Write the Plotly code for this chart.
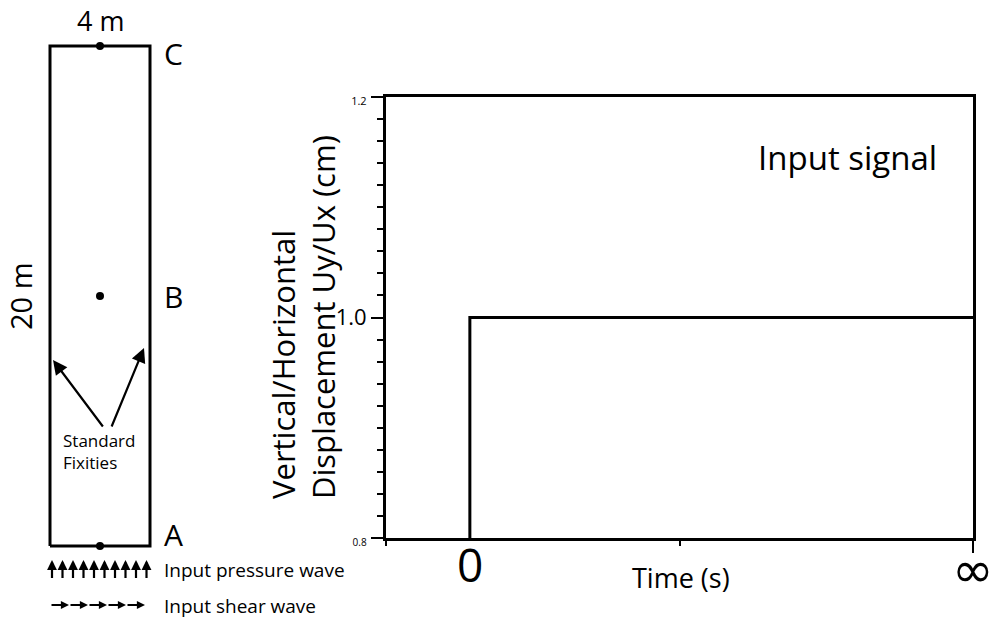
import plotly.graph_objects as go

# ---------------- data ----------------
time_vals = [0, 0, 6]
disp_vals = [0.8, 1.0, 1.0]
y_tick_vals = [0.8, 1.0, 1.2]
y_tick_text = ["<span style='font-size:10px'>0.8</span>", "1.0", "<span style='font-size:11px'>1.2</span>"]
x_tick_vals = [6]
x_tick_text = [""]
x_minor_ticks = [-1, 2.5]
zero_label_t = 0
inf_label_t = 6

col_width = 4
col_height = 20
node_names = ["A", "B", "C"]
node_x = [2, 2, 2]
node_y = [0, 10, 20]
pressure_arrow_x = [0.08, 0.5, 0.92, 1.34, 1.76, 2.18, 2.6, 3.02, 3.44, 3.86]
shear_arrow_start = [0, 0.76, 1.52, 2.28, 3.04]
shear_arrow_end = [0.76, 1.52, 2.28, 3.04, 3.8]
fixity_from = [(2.16, 4.72), (2.44, 4.72)]
fixity_to = [(0.12, 7.44), (3.76, 7.92)]

FONT = "Open Sans"
W, H = 995, 622

fig = go.Figure()
fig.add_trace(go.Scatter(x=time_vals, y=disp_vals, mode="lines",
                         line=dict(color="black", width=3),
                         xaxis="x", yaxis="y", showlegend=False, hoverinfo="skip"))
fig.add_trace(go.Scatter(x=[0, col_width, col_width, 0, 0],
                         y=[0, 0, col_height, col_height, 0], mode="lines",
                         line=dict(color="black", width=3),
                         xaxis="x2", yaxis="y2", showlegend=False, hoverinfo="skip"))
fig.add_trace(go.Scatter(x=node_x, y=node_y, mode="markers",
                         marker=dict(color="black", size=8),
                         xaxis="x2", yaxis="y2", showlegend=False, hoverinfo="skip"))

ann = []
for name, ny in zip(node_names, node_y):
    off = {"A": 0.48, "B": -0.0, "C": -0.28}[name]
    ann.append(dict(x=col_width + 0.94, y=ny + off, xref="x2", yref="y2", text=name,
                    xanchor="center", yanchor="middle",
                    showarrow=False, font=dict(family=FONT, size=30, color="black")))
ann.append(dict(x=col_width / 2, y=col_height + 1.02, xref="x2", yref="y2", text="4 m",
                xanchor="center", yanchor="middle",
                showarrow=False, font=dict(family=FONT, size=27, color="black")))
ann.append(dict(x=-1.2, y=col_height / 2, xref="x2", yref="y2", text="20 m", textangle=-90,
                xanchor="center", yanchor="middle",
                showarrow=False, font=dict(family=FONT, size=29, color="black")))
for (fx, fy), (tx, ty) in zip(fixity_from, fixity_to):
    ann.append(dict(x=tx, y=ty, ax=fx, ay=fy, xref="x2", yref="y2", axref="x2", ayref="y2",
                    text="", showarrow=True, arrowhead=2, arrowsize=1.3, arrowwidth=2.2,
                    arrowcolor="black", standoff=0, startstandoff=0))
ann.append(dict(x=1.96, y=3.8, xref="x2", yref="y2", text="Standard<br>Fixities",
                xanchor="center", yanchor="middle",
                align="left", showarrow=False, font=dict(family=FONT, size=17, color="black")))
for px in pressure_arrow_x:
    ann.append(dict(x=px, y=-0.56, ax=px, ay=-1.34, xref="x2", yref="y2", axref="x2", ayref="y2",
                    text="", showarrow=True, arrowhead=2, arrowsize=0.9, arrowwidth=2.2,
                    arrowcolor="black", standoff=0, startstandoff=0))
ann.append(dict(x=4.48, y=-0.96, xref="x2", yref="y2", text="Input pressure wave", xanchor="left",
                yanchor="middle",
                showarrow=False, font=dict(family=FONT, size=19, color="black")))
for s, e in zip(shear_arrow_start, shear_arrow_end):
    ann.append(dict(x=e, y=-2.36, ax=s, ay=-2.36, xref="x2", yref="y2", axref="x2", ayref="y2",
                    text="", showarrow=True, arrowhead=2, arrowsize=0.9, arrowwidth=1.8,
                    arrowcolor="black", standoff=0, startstandoff=0))
ann.append(dict(x=4.48, y=-2.38, xref="x2", yref="y2", text="Input shear wave", xanchor="left",
                yanchor="middle",
                showarrow=False, font=dict(family=FONT, size=19, color="black")))

ann.append(dict(x=zero_label_t, y=0.8, xref="x", yref="y", yanchor="top", xanchor="center",
                yshift=7, text="0",
                showarrow=False, font=dict(family=FONT, size=46, color="black")))
ann.append(dict(x=inf_label_t, y=0.8, xref="x", yref="y", yanchor="middle", xanchor="center",
                yshift=-32, text="∞",
                showarrow=False, font=dict(family="DejaVu Sans", size=50, color="black")))
ann.append(dict(x=681 / W, y=1 - 577 / H, xref="paper", yref="paper", text="Time (s)",
                xanchor="center", yanchor="middle",
                showarrow=False, font=dict(family=FONT, size=27, color="black")))
ann.append(dict(x=847 / W, y=1 - 157 / H, xref="paper", yref="paper", text="Input signal",
                xanchor="center", yanchor="middle",
                showarrow=False, font=dict(family=FONT, size=33, color="black")))
ann.append(dict(x=303 / W, y=1 - 317 / H, xref="paper", yref="paper",
                text="Vertical/Horizontal<br>Displacement Uy/Ux (cm)", textangle=-90, align="left",
                xanchor="center", yanchor="middle",
                showarrow=False, font=dict(family=FONT, size=31, color="black")))

fig.update_layout(
    width=W, height=H, margin=dict(l=0, r=0, t=0, b=0),
    paper_bgcolor="white", plot_bgcolor="white",
    font=dict(family=FONT, color="black"),
    showlegend=False,
    xaxis=dict(domain=[386 / W, 973 / W], range=[-1, 6], anchor="y",
               showline=True, linewidth=3, linecolor="black", mirror=True,
               showgrid=False, zeroline=False, automargin=False,
               ticks="outside", tickvals=x_tick_vals, ticktext=x_tick_text,
               ticklen=12, tickwidth=2, tickcolor="black",
               tickfont=dict(family=FONT, size=20, color="black"),
               minor=dict(tickvals=x_minor_ticks, ticks="outside", ticklen=5, tickwidth=2,
                          tickcolor="black")),
    yaxis=dict(domain=[1 - 538 / H, 1 - 97 / H], range=[0.8, 1.2], anchor="x",
               showline=True, linewidth=3, linecolor="black", mirror=True,
               showgrid=False, zeroline=False, automargin=False,
               ticks="outside", tickvals=y_tick_vals, ticktext=y_tick_text,
               ticklen=12, tickwidth=2, tickcolor="black",
               tickfont=dict(family=FONT, size=22, color="black"),
               minor=dict(dtick=0.02, tick0=0.8, ticks="outside", ticklen=6, tickwidth=2,
                          tickcolor="black")),
    xaxis2=dict(domain=[0, 200 / W], range=[-2, 6], anchor="y2", visible=False),
    yaxis2=dict(domain=[0, 1], range=[-3.04, 21.84], anchor="x2", visible=False),
    annotations=ann,
)

fig.write_html("out.html")
